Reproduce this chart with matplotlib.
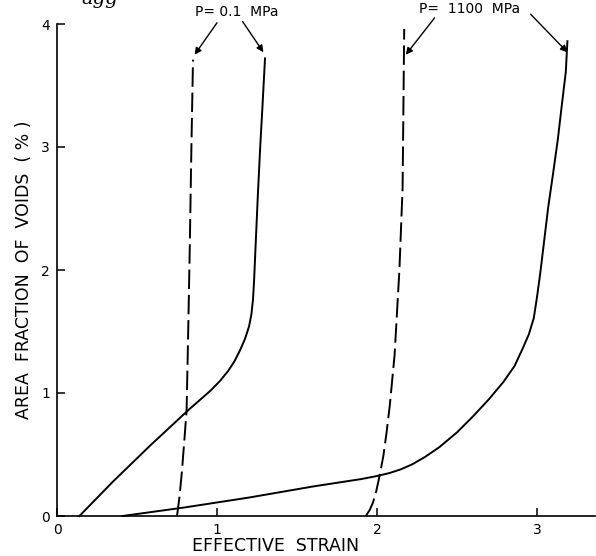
import numpy as np
import matplotlib
matplotlib.use("Agg")
import matplotlib.pyplot as plt

# curves (strain, area fraction of voids in %)
low_solid_x = [0.14, 0.35, 0.58, 0.82, 0.96, 1.02, 1.07, 1.11, 1.145, 1.175, 1.20, 1.215, 1.225, 1.232, 1.24, 1.255, 1.27, 1.285, 1.30]
low_solid_y = [0.00, 0.28, 0.57, 0.86, 1.02, 1.10, 1.18, 1.26, 1.35, 1.44, 1.54, 1.64, 1.76, 1.92, 2.16, 2.60, 3.00, 3.35, 3.72]

low_dash_x = [0.75, 0.765, 0.78, 0.795, 0.81, 0.82, 0.83, 0.84, 0.85]
low_dash_y = [0.00, 0.15, 0.35, 0.60, 0.86, 1.50, 2.20, 3.00, 3.71]

high_solid_x = [0.41, 0.80, 1.20, 1.60, 1.90, 2.00, 2.08, 2.15, 2.22, 2.30, 2.39, 2.50, 2.60, 2.70, 2.79, 2.86, 2.91, 2.95, 2.98, 3.00, 3.02, 3.045, 3.07, 3.10, 3.13, 3.155, 3.18, 3.19]
high_solid_y = [0.00, 0.07, 0.15, 0.24, 0.30, 0.325, 0.35, 0.38, 0.42, 0.48, 0.56, 0.68, 0.81, 0.95, 1.09, 1.22, 1.36, 1.48, 1.61, 1.78, 1.97, 2.24, 2.51, 2.78, 3.06, 3.34, 3.61, 3.86]

high_dash_x = [1.93, 1.955, 1.975, 1.995, 2.015, 2.04, 2.06, 2.08, 2.11, 2.14, 2.16, 2.17]
high_dash_y = [0.00, 0.05, 0.11, 0.20, 0.32, 0.49, 0.68, 0.90, 1.31, 2.00, 2.67, 3.96]

xticks = [0, 1, 2, 3]
yticks = [0, 1, 2, 3, 4]

W, H = 596, 556
fig = plt.figure(figsize=(W / 100, H / 100), dpi=100)
ax = fig.add_axes([57 / W, 40 / H, 538 / W, 492 / H])

lw = 1.4
ax.plot(low_solid_x, low_solid_y, color='k', lw=lw, clip_on=False)
ax.plot(low_dash_x, low_dash_y, color='k', lw=lw, ls=(0, (10, 3)), clip_on=False)
ax.plot(high_solid_x, high_solid_y, color='k', lw=lw, clip_on=False)
ax.plot(high_dash_x, high_dash_y, color='k', lw=lw, ls=(0, (10, 3)), clip_on=False)

ax.set_xlim(0, 538 / 160)
ax.set_ylim(0, 4)

for s in ['top', 'right']:
    ax.spines[s].set_visible(False)
for s in ['left', 'bottom']:
    ax.spines[s].set_linewidth(1.2)

ax.set_xticks(xticks)
ax.set_xticklabels([str(t) for t in xticks])
ax.set_yticks(yticks)
ax.set_yticklabels([str(t) for t in yticks])
ax.tick_params(direction='in', length=6, width=1.1, labelsize=10, pad=5)

ax.set_xlabel('EFFECTIVE  STRAIN', fontsize=12.5)
ax.xaxis.set_label_coords(0.407, -0.043)
ax.set_ylabel('AREA  FRACTION  OF  VOIDS  ( % )', fontsize=12.5, labelpad=6)

arrow = dict(arrowstyle='-|>', color='k', lw=1.0, mutation_scale=10, shrinkA=0, shrinkB=0)
ax.text(1.125, 4.10, 'P= 0.1  MPa', ha='center', va='center', fontsize=10)
ax.annotate('', xy=(0.86, 3.75), xytext=(1.0, 4.01), arrowprops=arrow, annotation_clip=False)
ax.annotate('', xy=(1.29, 3.77), xytext=(1.16, 4.02), arrowprops=arrow, annotation_clip=False)

ax.text(2.58, 4.12, 'P=  1100  MPa', ha='center', va='center', fontsize=10)
ax.annotate('', xy=(2.18, 3.75), xytext=(2.36, 4.05), arrowprops=arrow, annotation_clip=False)
ax.annotate('', xy=(3.19, 3.77), xytext=(2.96, 4.08), arrowprops=arrow, annotation_clip=False)

# fragment of a caption cut off at the top of the scan
fig.text(100 / W, 1 - 4 / H, 'agg', ha='center', va='baseline', fontsize=14,
         family='DejaVu Serif', style='italic')

fig.savefig('out.png', dpi=100)
